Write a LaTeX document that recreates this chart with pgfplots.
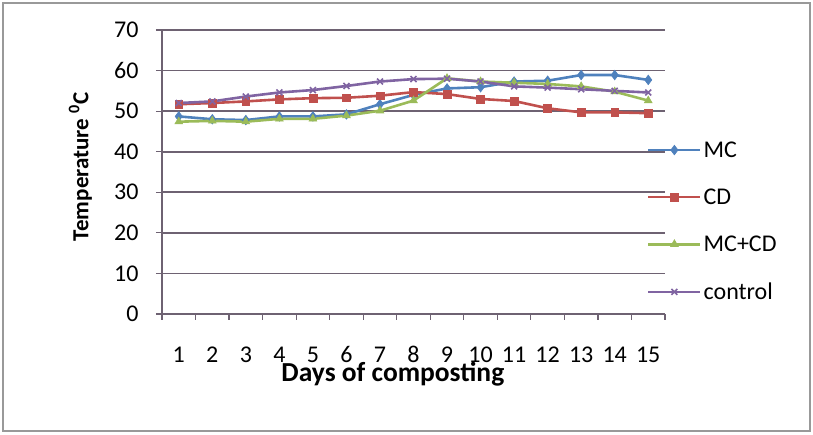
\documentclass[border=0pt]{standalone}
\usepackage{pgfplots}
\pgfplotsset{compat=1.18}
\usepackage{fontspec}
\setmainfont{Carlito}

\definecolor{mcblue}{HTML}{4F81BD}
\definecolor{cdred}{HTML}{C0504D}
\definecolor{mixgreen}{HTML}{9BBB59}
\definecolor{ctrlpurple}{HTML}{8064A2}
\definecolor{gridcol}{HTML}{6E6272}

\pgfplotstableread{
day MC   CD   MCCD control
1   48.7 51.7 47.4 52.0
2   48.0 52.0 47.6 52.4
3   47.8 52.4 47.4 53.6
4   48.7 52.9 48.1 54.6
5   48.7 53.2 48.1 55.2
6   49.2 53.3 48.9 56.2
7   51.7 53.8 50.1 57.3
8   54.0 54.7 52.6 57.9
9   55.6 54.2 58.1 58.0
10  55.9 53.0 57.3 57.3
11  57.3 52.5 57.0 56.1
12  57.5 50.7 56.7 55.8
13  58.9 49.7 56.1 55.4
14  58.9 49.7 54.8 55.0
15  57.7 49.5 52.6 54.6
}\temps

\begin{document}
\begin{tikzpicture}
\useasboundingbox (0,0) rectangle (813pt,435pt);
\draw[line width=2pt, color=gray!80] (3pt,4pt) rectangle (810pt,432pt);
\begin{axis}[
  at={(162pt,121pt)}, anchor=origin,
  scale only axis, width=503pt, height=284pt,
  xmin=0.5, xmax=15.5, ymin=0, ymax=70,
  axis lines*=left,
  axis line style={gridcol, line width=1.6pt},
  xtick={1,...,15},
  minor xtick={0.5,1.5,...,15.5},
  major x tick style={draw=none},
  minor x tick style={gridcol, line width=1.2pt},
  ytick={0,10,...,70},
  tick align=outside,
  major tick length=6pt, minor tick length=6pt,
  y tick style={gridcol, line width=1.2pt},
  ymajorgrids,
  major grid style={gridcol, line width=1.7pt},
  /pgf/number format/assume math mode=true,
  ticklabel style={font=\fontsize{24}{24}\selectfont},
  xticklabel style={anchor=base, yshift=-43pt},
  yticklabel style={anchor=east, xshift=-14pt},
  xlabel={\textbf{Days of composting}},
  xlabel style={font=\fontsize{27.5}{27.5}\selectfont, at={(axis description cs:0.459,-0.211)}, anchor=center},
  ylabel={\textbf{Temperature \textsuperscript{0}C}},
  ylabel style={font=\fontsize{23}{23}\selectfont, at={(axis description cs:-0.162,0.518)}, anchor=center},
  legend style={at={(axis description cs:0.964,0.615)}, anchor=north west,
    draw=none, fill=none, inner sep=0pt,
    font=\fontsize{24}{24}\selectfont, row sep=26pt,
    /tikz/every even column/.append style={column sep=2pt}},
  legend cell align=left,
  legend image code/.code={
    \draw[#1, mark=none] (0pt,0pt) -- (52pt,0pt);
    \draw[#1, only marks] plot coordinates {(26pt,0pt)};
  },
  every axis plot/.append style={line width=2.6pt},
]
\addplot[mcblue, mark=diamond*, mark size=4.8pt, mark options={line width=0.6pt}] table[x=day, y=MC] {\temps};
\addlegendentry{MC}
\addplot[cdred, mark=square*, mark size=3.9pt, mark options={line width=0.6pt}] table[x=day, y=CD] {\temps};
\addlegendentry{CD}
\addplot[mixgreen, mark=triangle*, mark size=4.5pt, mark options={line width=0.6pt}] table[x=day, y=MCCD] {\temps};
\addlegendentry{MC+CD}
\addplot[ctrlpurple, mark=x, mark size=4.2pt, mark options={line width=1.6pt}] table[x=day, y=control] {\temps};
\addlegendentry{control}
\end{axis}
\end{tikzpicture}
\end{document}
